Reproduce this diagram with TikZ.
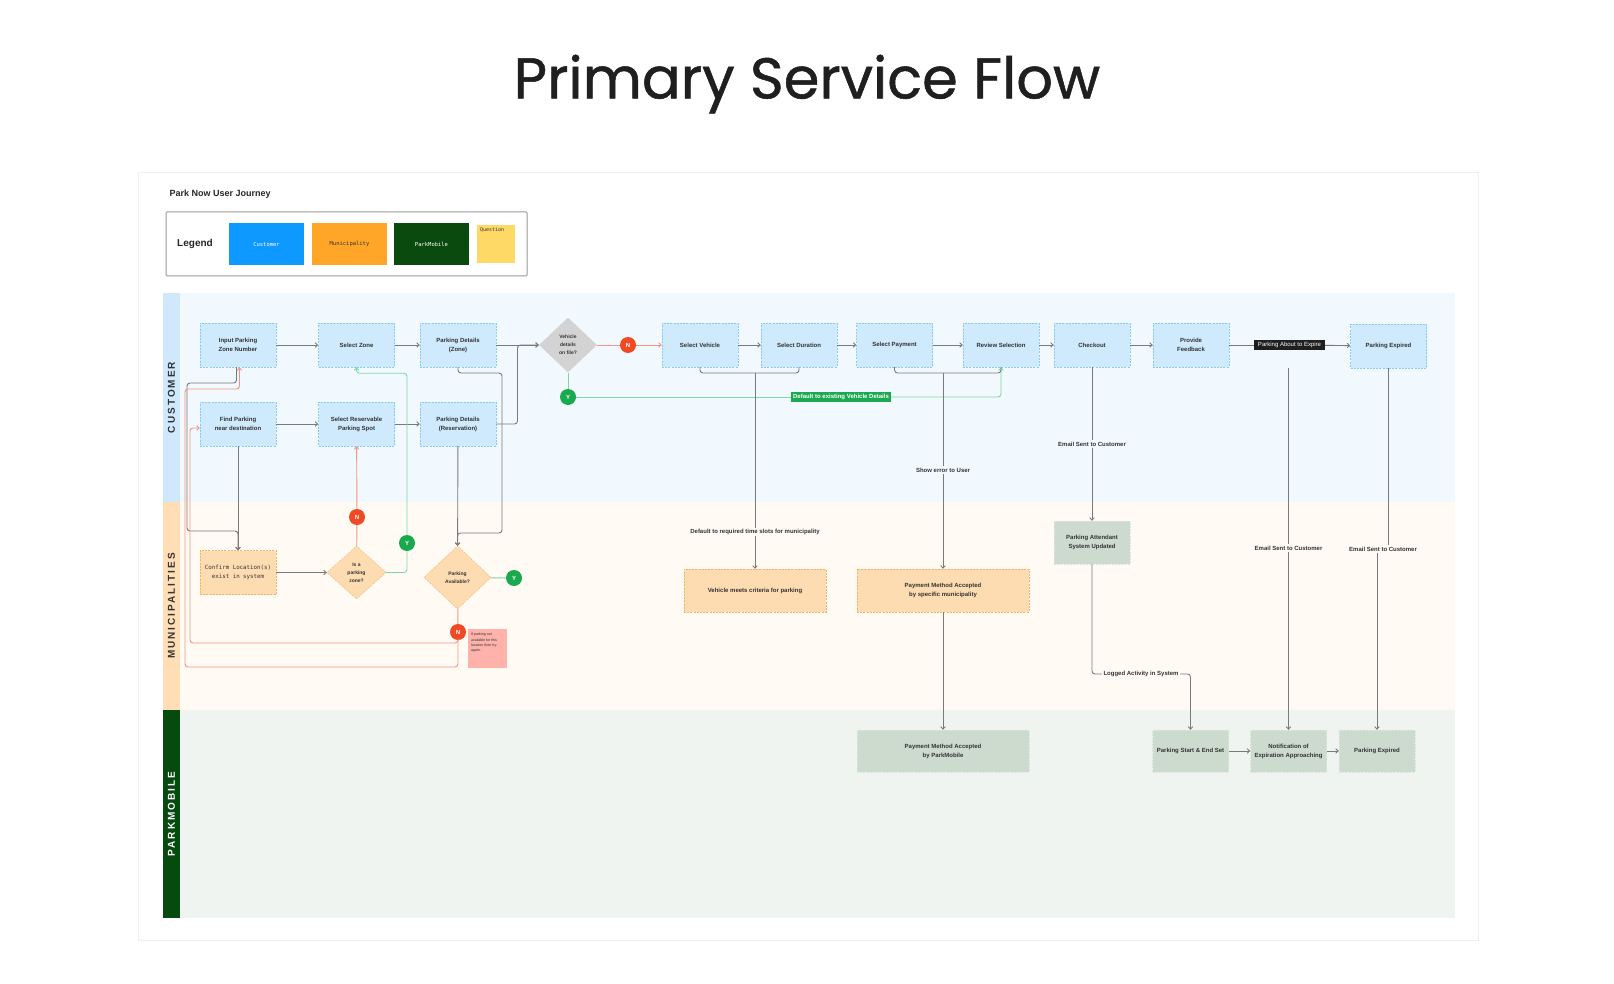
\documentclass[tikz,border=0pt]{standalone}
\usepackage{fontspec}
\setmainfont{Liberation Sans}
\newfontfamily\titlefont{Poppins}[FakeBold=0.9]
\newfontfamily\codefont{DejaVu Sans Mono}
\newfontfamily\lanefont{Liberation Sans}[LetterSpace=20]
\usetikzlibrary{arrows.meta,positioning,calc,shapes.geometric}
\definecolor{ink}{HTML}{333333}
\definecolor{wire}{HTML}{7A7A7A}
\definecolor{salmon}{HTML}{F4947E}
\definecolor{mint}{HTML}{7DD9A2}
\definecolor{custlane}{HTML}{F2F9FE}
\definecolor{custstrip}{HTML}{CFE8FC}
\definecolor{custfill}{HTML}{CFE9FD}
\definecolor{custedge}{HTML}{86CBF6}
\definecolor{munilane}{HTML}{FFFAF4}
\definecolor{munistrip}{HTML}{FFDDB5}
\definecolor{munifill}{HTML}{FEDCB2}
\definecolor{muniedge}{HTML}{F2B268}
\definecolor{pmlane}{HTML}{EFF4F1}
\definecolor{pmstrip}{HTML}{064A0E}
\definecolor{pmfill}{HTML}{CCDBCE}
\definecolor{pmedge}{HTML}{DCE5DD}
\definecolor{decgrey}{HTML}{D3D3D3}
\definecolor{yesgreen}{HTML}{1BA94F}
\definecolor{nored}{HTML}{EF4A23}
\definecolor{notepink}{HTML}{FFB2AA}
\definecolor{legblue}{HTML}{0D99FF}
\definecolor{legorange}{HTML}{FFA629}
\definecolor{leggreen}{HTML}{0A4A0E}
\definecolor{legyellow}{HTML}{FFD966}
\definecolor{frame}{HTML}{EFEFEF}
\newcommand{\boxfont}{\fontsize{6}{9}\selectfont\bfseries}

\begin{document}
\begin{tikzpicture}[x=1pt,y=-1pt,>={Straight Barb[length=2.5pt,width=4.5pt]},
  font=\boxfont,
  cbox/.style={draw=custedge,dash pattern=on 2pt off 1.2pt,fill=custfill,
               minimum width=76pt,minimum height=44pt,inner sep=1pt,align=center,text=ink},
  mbox/.style={cbox,draw=muniedge,fill=munifill},
  pbox/.style={cbox,draw=pmedge,fill=pmfill,minimum height=42pt},
  decide/.style={diamond,inner sep=0pt,align=center,text=ink,
                 font=\fontsize{5}{8}\selectfont\bfseries},
  ycirc/.style={circle,fill=yesgreen,text=white,minimum size=16pt,inner sep=0pt},
  ncirc/.style={ycirc,fill=nored},
  lbl/.style={fill=custlane,inner sep=1.5pt,text=ink},
  mlbl/.style={lbl,fill=munilane},
  swatch/.style={minimum width=75pt,minimum height=42pt,inner sep=0pt,
                 font=\codefont\fontsize{5.5}{7}\selectfont},
  lanelbl/.style={rotate=90,font=\lanefont\fontsize{10}{12}\selectfont\bfseries},
  line/.style={draw=wire,line width=0.9pt},
  arr/.style={line,->},
  sline/.style={draw=salmon,line width=0.9pt},
  sarr/.style={sline,->},
  gline/.style={draw=mint,line width=0.9pt},
  garr/.style={gline,->}]
\useasboundingbox (0,0) rectangle (1614,984);
\fill[white] (0,0) rectangle (1614,984);
\node[font=\titlefont\fontsize{57.5}{69}\selectfont,text=black!88] (title) at (807,84) {Primary Service Flow};
\draw[frame] (138,172) rectangle (1478,940);

\node[anchor=west,font=\fontsize{9}{11}\selectfont\bfseries,text=black!85] (journey) at (166,194) {Park Now User Journey};
\draw[black!40,line width=1pt,rounded corners=1pt] (166,212) rectangle (527,276);
\node[font=\fontsize{10}{12}\selectfont\bfseries,text=black!85] (leg) at (195,244) {Legend};
\node[swatch,fill=legblue,text=white] (lc) at (266.5,244) {Customer};
\node[swatch,fill=legorange,text=ink] (lm) at (349.5,244) {Municipality};
\node[swatch,fill=leggreen,text=white] (lp) at (431.5,244) {ParkMobile};
\node[fill=legyellow,minimum width=38pt,minimum height=38pt,inner sep=0pt] (lq) at (496,244) {};
\node[anchor=north west,inner sep=0pt,font=\codefont\fontsize{5}{6}\selectfont,text=ink] (lqt) at ([shift={(3pt,-3pt)}]lq.north west) {Question};

\fill[custlane] (163,293) rectangle (1455,502);
\fill[custstrip] (163,293) rectangle (180,502);
\fill[munilane] (163,502) rectangle (1455,710);
\fill[munistrip] (163,502) rectangle (180,710);
\fill[pmlane] (163,710) rectangle (1455,918);
\fill[pmstrip] (163,710) rectangle (180,918);
\node[lanelbl,text=ink] (lanec) at (171.5,397.5) {CUSTOMER};
\node[lanelbl,text=ink] (lanem) at (171.5,606) {MUNICIPALITIES};
\node[lanelbl,text=white] (lanep) at (171.5,814) {PARKMOBILE};

\node[cbox] (inp) at (238,345) {Input Parking\\Zone Number};
\node[cbox] (zone) at (356.5,345) {Select Zone};
\node[cbox] (pdz) at (458,345) {Parking Details\\(Zone)};
\node[cbox] (find) at (238,424) {Find Parking\\near destination};
\node[cbox] (spot) at (356.5,424) {Select Reservable\\Parking Spot};
\node[cbox] (pdr) at (458,424) {Parking Details\\(Reservation)};
\node[decide,fill=decgrey,minimum width=58pt,minimum height=55pt] (vfile) at (568,345) {Vehicle\\details\\on file?};
\node[ncirc] (nveh) at (628,345) {N};
\node[ycirc] (yfile) at (568,397) {Y};
\node[cbox] (veh) at (700,345) {Select Vehicle};
\node[cbox] (dur) at (799,345) {Select Duration};
\node[cbox] (pay) at (894.5,345) {Select Payment};
\node[cbox] (rev) at (1001,345) {Review Selection};
\node[cbox] (chk) at (1092,345) {Checkout};
\node[cbox] (fbk) at (1191,345) {Provide\\Feedback};
\node[fill=black!88,text=white,font=\fontsize{6}{7}\selectfont,minimum width=71pt,minimum height=10pt,inner sep=1pt] (expire) at (1289.5,345) {Parking About to Expire};
\node[cbox] (pexp) at (1388.5,346) {Parking Expired};
\node[fill=yesgreen,text=white,minimum width=100pt,minimum height=10pt,inner sep=1pt] (deflbl) at (841,397) {Default to existing Vehicle Details};

\node[mbox,font=\codefont\fontsize{5.8}{9}\selectfont] (confirm) at (238,572.5) {Confirm Location(s)\\exist in system};
\node[decide,fill=munifill,draw=muniedge,dash pattern=on 2pt off 1.2pt,minimum width=59pt,minimum height=53pt] (iszone) at (356.5,572.5) {Is a\\parking\\zone?};
\node[ncirc] (nzone) at (357,517) {N};
\node[ycirc] (yzone) at (407,543) {Y};
\node[decide,fill=munifill,draw=muniedge,dash pattern=on 2pt off 1.2pt,minimum width=67pt,minimum height=63pt] (avail) at (457.5,577.5) {Parking\\Available?};
\node[ycirc] (yavail) at (514,578) {Y};
\node[ncirc] (navail) at (458,632) {N};
\node[fill=notepink,minimum width=39pt,minimum height=39pt,inner sep=0pt] (note) at (487.5,648.5) {};
\node[anchor=north west,align=left,inner sep=0pt,font=\fontsize{3.6}{5.4}\selectfont,text=ink] (notetxt) at ([shift={(3pt,-4pt)}]note.north west) {If parking not\\available for this\\location then try-\\again.};
\node[mbox,minimum width=142pt,minimum height=43pt] (crit) at (755,590.5) {Vehicle meets criteria for parking};
\node[mbox,minimum width=172pt,minimum height=43pt] (paymun) at (943,590.5) {Payment Method Accepted\\by specific municipality};
\node[pbox,minimum height=43pt] (attend) at (1092,542.5) {Parking Attendant\\System Updated};

\node[pbox,minimum width=172pt] (paypm) at (943,751) {Payment Method Accepted\\by ParkMobile};
\node[pbox] (startend) at (1190.5,751) {Parking Start \& End Set};
\node[pbox] (notify) at (1288.5,751) {Notification of\\Expiration Approaching};
\node[pbox] (pexp2) at (1377,751) {Parking Expired};

\node[mlbl] (slots) at (755,532) {Default to required time slots for municipality};
\node[lbl] (showerr) at (943,470) {Show error to User};
\node[lbl] (mail1) at (1092,444) {Email Sent to Customer};
\node[mlbl] (mail2) at (1288.5,548) {Email Sent to Customer};
\node[mlbl] (mail3) at (1383,549) {Email Sent to Customer};
\node[mlbl] (logged) at (1141,674) {Logged Activity in System};

\coordinate (mrg) at ($(pdz.east)!0.5!(vfile.west)$);
\coordinate (br1) at (755,373);
\coordinate (br2) at (943,373);
\coordinate (pz1) at (502,373);
\coordinate (pz2) at (502,533);
\coordinate (g1) at (187,383);
\coordinate (g2) at (187,531);
\coordinate (s1) at (190,643);
\coordinate (s2) at (185,667);
\coordinate (s3) at (185,389);
\coordinate (gz) at ($(zone.south)+(0,6)$);

\draw[arr] (inp) -- (zone);
\draw[arr] (zone) -- (pdz);
\draw[arr] (pdz) -- (vfile);
\draw[arr] (find) -- (spot);
\draw[arr] (spot) -- (pdr);
\draw[arr,rounded corners=3pt] (pdr.east) -| (mrg) -- (vfile.west);
\draw[sline] (vfile) -- (nveh);
\draw[sarr] (nveh) -- (veh);
\draw[gline] (vfile) -- (yfile);
\draw[gline] (yfile) -- (deflbl);
\draw[garr,rounded corners=3pt] (deflbl.east) -| (rev.south);
\draw[arr] (veh) -- (dur);
\draw[arr] (dur) -- (pay);
\draw[arr] (pay) -- (rev);
\draw[arr] (rev) -- (chk);
\draw[arr] (chk) -- (fbk);
\draw[line] (fbk) -- (expire);
\draw[arr] (expire) -- (pexp);

\draw[line,rounded corners=3pt] (veh.south) |- (br1) -| (dur.south);
\draw[line] (br1) -- (slots.north);
\draw[arr] (slots.south) -- (crit.north);
\draw[line,rounded corners=3pt] (pay.south) |- (br2) -| (rev.south);
\draw[line] (br2) -- (showerr.north);
\draw[arr] (showerr.south) -- (paymun.north);
\draw[arr] (paymun) -- (paypm);

\draw[line] (chk) -- (mail1);
\draw[arr] (mail1) -- (attend);
\draw[line,rounded corners=3pt] (attend.south) |- (logged.west);
\draw[arr,rounded corners=3pt] (logged.east) -| (startend.north);
\draw[line] (notify.north |- pexp.south) -- (mail2.north);
\draw[arr] (mail2.south) -- (notify.north);
\draw[line] (pexp.south) -- (pexp.south |- mail3.north);
\draw[arr] (mail3.south -| pexp2.north) -- (pexp2.north);
\draw[arr] (startend) -- (notify);
\draw[arr] (notify) -- (pexp2);

\draw[arr,rounded corners=3pt] ([xshift=-1.5pt]inp.south) |- (g1) -- (g2) -| (confirm.north);
\draw[arr] (find) -- (confirm);
\draw[arr] (confirm) -- (iszone);
\draw[sline] (iszone) -- (nzone);
\draw[sarr] (nzone) -- (spot);
\draw[gline,rounded corners=3pt] (iszone.east) -| (yzone.south);
\draw[garr,rounded corners=3pt] (yzone.north) |- (gz) -- (zone.south);
\draw[arr,rounded corners=3pt] (pdz.south) |- (pz1) -- (pz2) -| (avail.north);
\draw[arr] (pdr) -- (avail);
\draw[gline] (avail) -- (yavail);
\draw[sline] (avail) -- (navail);
\draw[sarr,rounded corners=3pt] (navail.south) |- (s1) |- ([yshift=-4pt]find.west);
\draw[sarr,rounded corners=3pt] (navail.south) |- (s2) -- (s3) -| ([xshift=1.5pt]inp.south);
\end{tikzpicture}
\end{document}
